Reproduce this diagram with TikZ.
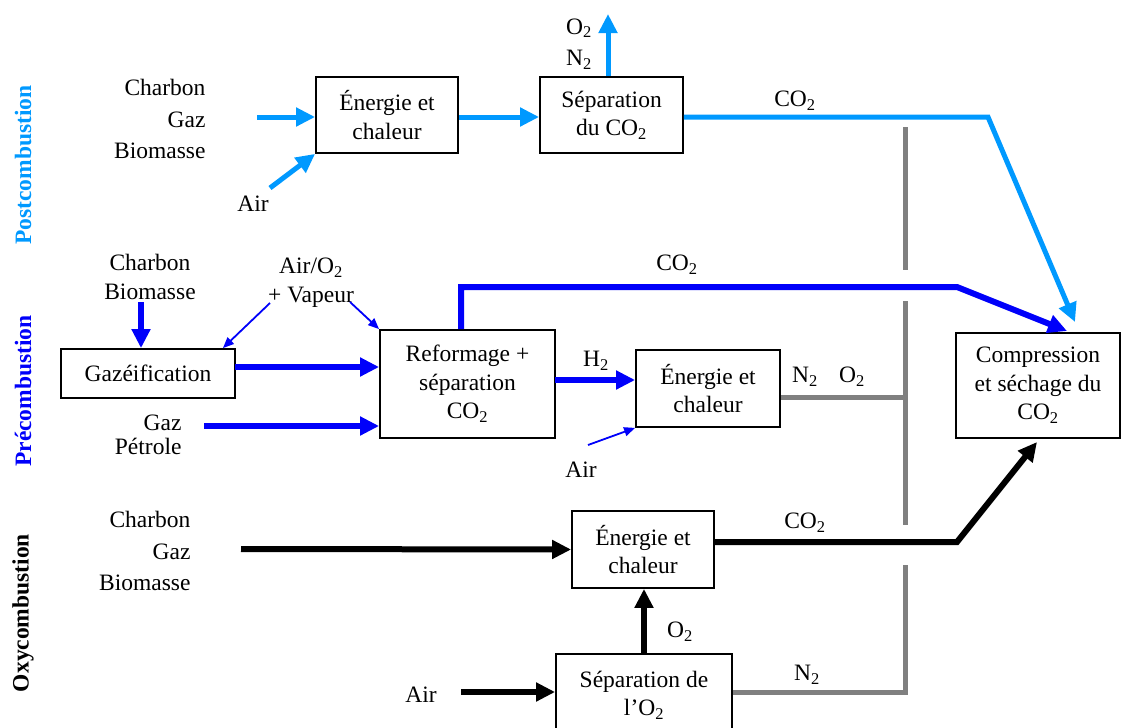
\documentclass[tikz,border=0pt]{standalone}
\usepackage{fontspec}
\setmainfont{Liberation Serif}
\usetikzlibrary{arrows.meta}
\usepackage{xcolor}
\definecolor{cielbleu}{RGB}{0,153,255}
\definecolor{pbleu}{RGB}{0,0,250}
\definecolor{grisn}{RGB}{128,128,128}
\newcommand{\ind}[1]{\textsubscript{#1}}

\begin{document}
\begin{tikzpicture}[x=1pt,y=-1pt,font=\fontsize{23.5}{28.5}\selectfont,
  box/.style={draw,line width=1.8pt,align=center,inner sep=0pt},
  flux/.style={line width=#1,-{Triangle[length=19pt,width=18pt]}},
  mince/.style={line width=1.8pt,-{Triangle[length=11pt,width=9pt]}},
  rejet/.style={grisn,line width=5pt},
  liste/.style={align=#1,font=\fontsize{23.5}{31.5}\selectfont},
  titre/.style={rotate=90,font=\bfseries\fontsize{23.5}{28}\selectfont}]
\useasboundingbox (0,0) rectangle (1122,728);
\node[titre,text=cielbleu] (lpost) at (23,165) {Postcombustion};
\node[titre,text=pbleu] (lpre) at (23,391) {Précombustion};
\node[titre] (loxy) at (23,613) {Oxycombustion};
% postcombustion
\node[liste=right,anchor=east] (fpost) at (209,119) {Charbon\\Gaz\\Biomasse};
\node[box,minimum width=142pt,minimum height=76pt] (epost) at (387,115) {Énergie et\\chaleur};
\node[box,minimum width=143pt,minimum height=76pt] (spost) at (611.5,115) {Séparation\\du CO\ind2};
\node (apost) at (253,204) {Air};
\node[liste=center] (gpost) at (579,44) {O\ind2\\N\ind2};
\node (cpost) at (795,101) {CO\ind2};
\coordinate (ipost) at (257,117);
\coordinate (dpost) at (270,188);
\coordinate (opost) at (608,14);
\coordinate (kpost) at (988,117);
\coordinate (bpost) at (1075,322);
\draw[flux=5pt,cielbleu] (ipost) -- (ipost -| epost.west);
\draw[flux=5pt,cielbleu] (dpost) -- (epost.south west);
\draw[flux=5pt,cielbleu] (epost.east |- ipost) -- (spost.west |- ipost);
\draw[flux=5pt,cielbleu] (spost.north -| opost) -- (opost);
\draw[flux=5pt,cielbleu] (spost.east |- ipost) -- (kpost) -- (bpost);
% precombustion
\node[align=center,font=\fontsize{23.5}{29}\selectfont] (fpre) at (150,277) {Charbon\\Biomasse};
\node[align=center,font=\fontsize{23.5}{29}\selectfont] (vpre) at (311,283) {Air/O\ind2\\+ Vapeur};
\node[box,minimum width=174pt,minimum height=49pt] (gzf) at (148,373.5) {Gazéification};
\node[box,minimum width=175pt,minimum height=108pt] (refo) at (467.5,384) {Reformage +\\séparation\\CO\ind2};
\node[align=right,anchor=east,font=\fontsize{23.5}{24}\selectfont] (gpre) at (185,435) {Gaz\\Pétrole};
\node[box,minimum width=144pt,minimum height=77pt] (epre) at (708,388.5) {Énergie et\\chaleur};
\node[box,minimum width=164pt,minimum height=105pt] (compr) at (1038,385.5) {Compression\\et séchage du\\CO\ind2};
\node (hpre) at (596,361) {H\ind2};
\node (apre) at (581,470) {Air};
\node (npre) at (805,377) {N\ind2};
\node (opre) at (852,377) {O\ind2};
\node (cpre) at (677,265) {CO\ind2};
\coordinate (d1) at (141,302);
\coordinate (v1) at (270,303);
\coordinate (v2) at (350,302);
\coordinate (i1) at (235,367);
\coordinate (i2) at (204,426);
\coordinate (k1) at (461,287);
\coordinate (k2) at (957,287);
\coordinate (b1) at (1067,331);
\coordinate (h1) at (555,380);
\coordinate (a1) at (588,445);
\coordinate (t1) at (905,397);
\draw[flux=6pt,pbleu] (d1) -- (d1 |- gzf.north);
\draw[mince,pbleu] (v1) -- ([xshift=-13pt]gzf.north east);
\draw[mince,pbleu] (v2) -- (refo.north west);
\draw[flux=6pt,pbleu] (i1) -- (i1 -| refo.west);
\draw[flux=6pt,pbleu] (i2) -- (i2 -| refo.west);
\draw[flux=6pt,pbleu] (refo.north -| k1) -- (k1) -- (k2) -- (b1);
\draw[flux=6pt,pbleu] (h1) -- (h1 -| epre.west);
\draw[mince,pbleu] (a1) -- (epre.south west);
\draw[rejet] (epre.east |- t1) -- (t1);
% oxycombustion
\node[liste=right,anchor=east] (foxy) at (194,551) {Charbon\\Gaz\\Biomasse};
\node[box,minimum width=142pt,minimum height=77pt] (eoxy) at (643,549.5) {Énergie et\\chaleur};
\node[box,minimum width=176pt,minimum height=82pt] (soxy) at (644,695) {Séparation de\\l’O\ind2};
\node (aoxy) at (421,695) {Air};
\node (ooxy) at (680,632) {O\ind2};
\node (coxy) at (805,523) {CO\ind2};
\node (noxy) at (807,675) {N\ind2};
\coordinate (ioxy) at (241,549);
\coordinate (koxy) at (957,542);
\coordinate (boxy) at (1037,442);
\coordinate (jo) at (461,692);
\coordinate (goxy) at (905,692);
\coordinate (g3) at (905,565);
\draw[flux=6pt] (ioxy) -- (eoxy.west);
\draw[flux=6pt] (eoxy.east |- koxy) -- (koxy) -- (boxy);
\draw[flux=6pt] (soxy.north) -- (soxy.north |- eoxy.south);
\draw[flux=6pt] (jo) -- (jo -| soxy.west);
\draw[rejet] (soxy.east |- goxy) -- (goxy) -- (g3);
\draw[rejet] (905,127) -- (905,270);
\draw[rejet] (905,301) -- (905,525);
\end{tikzpicture}
\end{document}
